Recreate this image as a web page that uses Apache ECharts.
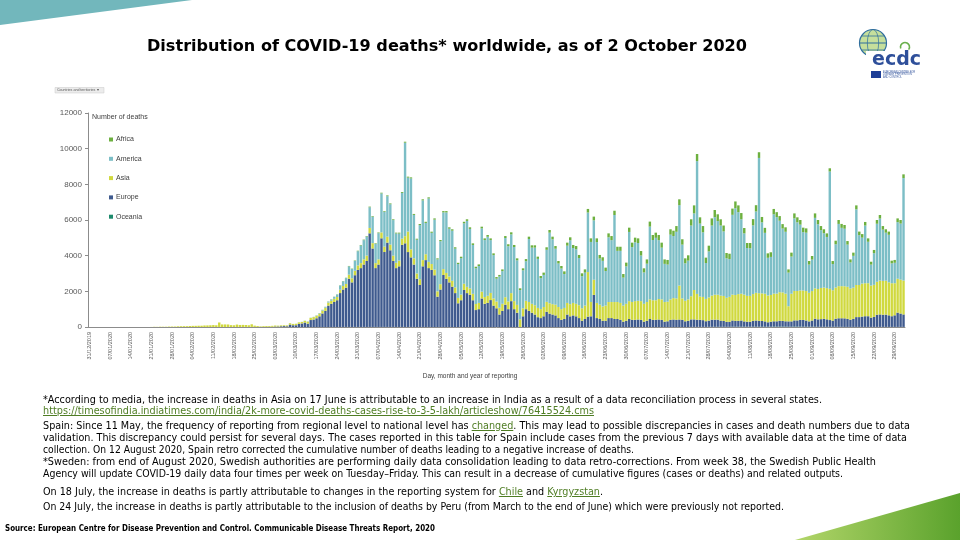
<!DOCTYPE html>
<html><head><meta charset="utf-8">
<script src="https://cdn.jsdelivr.net/npm/echarts/dist/echarts.min.js"></script>
<style>
html,body{margin:0;padding:0;background:#fff;}
#wrap{position:relative;width:960px;height:540px;overflow:hidden;background:#fff;}
#c{position:absolute;left:0;top:0;width:960px;height:540px;}
.t{position:absolute;white-space:nowrap;transform-origin:0 50%;color:#000;font-family:'DejaVu Sans',Verdana,sans-serif;display:inline-block;}
.n{font-size:10px;line-height:12px;font-stretch:condensed;}
.lk{color:#4f7d24;text-decoration:underline;}
</style></head><body>
<div id="wrap">
<div id="c"></div>
<div class="t" data-w="600" style="left:147px;top:37px;font-size:15px;line-height:18px;font-weight:bold;">Distribution of COVID-19 deaths* worldwide, as of 2 October 2020</div>
<div class="t n" data-w="779" style="left:43px;top:394px;">*According to media, the increase in deaths in Asia on 17 June is attributable to an increase in India as a result of a data reconciliation process in several states.</div>
<div class="t n" data-w="551" style="left:43px;top:405px;"><span class="lk">https://timesofindia.indiatimes.com/india/2k-more-covid-deaths-cases-rise-to-3-5-lakh/articleshow/76415524.cms</span></div>
<div class="t n" data-w="867" style="left:43px;top:420px;">Spain: Since 11 May, the frequency of reporting from regional level to national level has <span class="lk">changed</span>. This may lead to possible discrepancies in cases and death numbers due to data</div>
<div class="t n" data-w="864" style="left:43px;top:432px;">validation. This discrepancy could persist for several days. The cases reported in this table for Spain include cases from the previous 7 days with available data at the time of data</div>
<div class="t n" data-w="591" style="left:43px;top:444px;">collection. On 12 August 2020, Spain retro corrected the cumulative number of deaths leading to a negative increase of deaths.</div>
<div class="t n" data-w="833" style="left:43px;top:456px;">*Sweden: from end of August 2020, Swedish authorities are performing daily data consolidation leading to data retro-corrections. From week 38, the Swedish Public Health</div>
<div class="t n" data-w="800" style="left:43px;top:468px;">Agency will update COVID-19 daily data four times per week on Tuesday–Friday. This can result in a decrease of cumulative figures (cases or deaths) and related outputs.</div>
<div class="t n" data-w="560" style="left:43px;top:486px;">On 18 July, the increase in deaths is partly attributable to changes in the reporting system for <span class="lk">Chile</span> and <span class="lk">Kyrgyzstan</span>.</div>
<div class="t n" data-w="741" style="left:43px;top:501px;">On 24 July, the increase in deaths is partly attributable to the inclusion of deaths by Peru (from March to the end of June) which were previously not reported.</div>
<div class="t" data-w="430" style="left:5px;top:524px;font-size:8px;line-height:10px;font-weight:bold;">Source: European Centre for Disease Prevention and Control. Communicable Disease Threats Report, 2020</div>
</div>
<script>
// ---- data (daily deaths by continent, 31/12/2019 .. 02/10/2020) ----
const START_DATE = [2019, 12, 31];
const DAYS = 277;
const yTicks = [0, 2000, 4000, 6000, 8000, 10000, 12000];
const legendNames = ['Africa', 'America', 'Asia', 'Europe', 'Oceania'];

const europe = [
  0,
  0,0,0,0,0,0,0,0,0,0, 0,0,0,0,0,0,0,0,0,0, 0,0,0,0,0,0,0,0,0,0, 0,
  0,0,0,0,0,0,0,0,0,0, 0,0,0,0,1,0,0,0,0,0, 0,2,1,3,4,5,5,4,8,
  12,10,28,28,41,50,40,135,100,100,175,200,250,190,390,420,490,600,760,900,1200,1300,1400,1500,1900,2100,2200,2700,2500,2900,3200,
  3300,3500,3700,5250,4400,3300,3500,4970,4200,4730,4300,3700,3300,3400,4600,4690,4200,3900,3500,2700,2355,3400,3750,3300,3200,2900,1700,2100,2915,2700,
  2500,2260,1900,1330,1500,2075,1900,1800,1500,950,1000,1600,1300,1350,1510,1200,1050,700,900,1250,1000,1450,1000,800,-1200,600,1000,900,800,700,550,
  500,600,850,750,700,650,500,400,450,700,600,650,600,500,350,450,580,600,1800,500,450,350,350,500,500,450,450,400,300,350,
  450,400,400,420,400,300,350,450,400,400,420,400,300,320,400,420,400,420,400,320,350,420,420,400,400,380,320,350,400,400,400,
  350,330,280,280,350,330,330,350,300,280,280,330,350,330,320,300,250,280,300,300,330,320,300,300,300,350,350,380,380,350,300,
  350,450,420,430,450,420,380,350,450,480,480,480,450,400,450,550,550,580,600,600,520,560,680,700,680,690,650,600,650,800,
  750,700
];
const asia = [
  0,
  0,0,0,0,0,0,0,0,0,0, 1,0,0,0,0,0,0,0,0,0, 3,11,8,16,15,15,24,26,26,38, 43,
  46,45,57,64,66,72,73,86,89,97,108,97,254,143,143,142,105,98,136,115,118,109,97,150,71,52,29,44,47,
  45,55,55,45,50,45,50,75,70,80,85,80,95,110,120,135,140,150,160,175,170,170,175,180,190,200,210,230,230,250,250,
  280,290,300,300,300,280,290,330,300,330,320,300,300,320,350,400,1150,450,350,300,320,350,330,350,330,320,300,300,330,330,
  330,330,320,300,320,350,350,360,360,340,350,380,380,400,400,400,380,380,400,420,430,450,450,440,430,450,470,500,500,520,520,
  500,520,560,580,580,600,620,600,620,650,680,700,700,720,700,750,2500,800,850,850,800,800,850,900,900,950,950,950,900,950,
  1000,1000,1050,1050,1050,1000,1050,1100,1100,1100,1150,1150,1100,1100,1150,1200,1200,1900,1200,1150,1200,1300,1650,1450,1300,1300,1250,1300,1350,1400,1400,
  1400,1400,1350,1400,1450,1450,1500,1500,1500,1450,1450,1500,1550,1550,1550,1550,1500,1500,1550,1550,1600,1600,1550,850,1550,1650,1650,1650,1650,1650,1600,
  1650,1700,1700,1750,1750,1750,1750,1700,1750,1800,1800,1800,1800,1750,1750,1800,1800,1850,1850,1850,1800,1800,1850,1900,1900,1900,1850,1850,1800,1900,
  1900,1900
];
const america = [
  0,
  0,0,0,0,0,0,0,0,0,0, 0,0,0,0,0,0,0,0,0,0, 0,0,0,0,0,0,0,0,0,0, 0,
  0,0,0,0,0,0,0,0,0,0, 0,0,0,0,0,0,0,0,0,0, 0,0,0,0,0,0,0,0,1,
  1,2,1,4,3,2,4,3,4,5,5,10,11,12,10,12,21,30,40,50,55,70,110,140,230,260,330,470,520,550,800,
  988,1077,1068,1162,1483,1072,1468,2187,1956,2272,2263,1992,1643,1518,2567,5243,3023,3977,2433,1894,3038,3348,1754,3553,1749,2799,1789,2409,3179,3394,
  2679,2810,2174,1900,2039,3390,3699,3340,2740,2005,2070,3550,3195,3310,2960,2430,1280,1750,1830,3320,3100,3295,3035,2500,1640,2130,2220,3535,3150,3230,2750,
  1740,1800,2920,3960,3635,3140,2440,2280,1900,3210,3580,3080,3060,2650,1800,1850,3340,3370,3330,3410,2590,2560,1940,3630,3470,4880,2870,2920,1570,2100,
  3880,3080,3300,3240,2560,1760,2150,4080,3380,3500,3300,2900,2140,2080,3630,3480,3740,4510,3020,2100,2170,3965,4295,7445,4095,3625,2015,2580,3930,4350,4130,
  3930,3620,2210,2120,4475,4865,4595,4175,3435,2685,2665,3855,4565,7585,3985,3415,2115,2135,4450,4290,4010,3580,3470,1885,2085,4070,3850,3690,3275,3275,1585,
  1765,3955,3630,3240,3050,2870,6580,1470,2430,3490,3270,3225,2365,1465,1785,4245,2795,2575,3235,2325,1175,1775,3255,3475,2875,2695,2665,1115,1145,3175,
  3145,5745
];
const africa = [
  0,
  0,0,0,0,0,0,0,0,0,0, 0,0,0,0,0,0,0,0,0,0, 0,0,0,0,0,0,0,0,0,0, 0,
  0,0,0,0,0,0,0,0,0,0, 0,0,0,0,0,0,0,0,0,0, 0,0,0,0,0,0,0,0,0,
  0,0,0,0,0,0,0,0,1,0,0,1,1,2,2,3,3,5,5,8,8,10,12,12,15,15,18,20,22,25,25,
  30,30,30,35,35,35,40,40,40,45,45,45,45,50,50,55,55,60,55,55,60,60,65,65,65,70,60,70,75,75,
  80,80,75,70,80,85,90,90,90,85,90,95,95,100,100,100,90,90,100,110,110,115,115,110,100,110,120,130,130,130,125,
  120,130,140,150,150,150,140,140,150,170,170,170,180,170,160,180,200,200,210,210,200,200,190,220,230,240,230,230,200,210,
  240,250,260,260,250,230,240,280,280,290,290,280,250,260,300,300,320,330,300,280,300,350,450,400,350,350,300,320,400,400,380,
  350,330,300,300,350,380,380,350,300,280,300,350,350,320,300,280,250,260,300,280,260,250,250,180,220,280,280,260,250,240,200,
  200,250,240,230,220,200,180,170,200,220,220,210,200,170,180,220,200,200,200,190,160,180,210,200,200,190,180,150,160,210,
  200,210
];
const oceania = [
  0,
  0,0,0,0,0,0,0,0,0,0, 0,0,0,0,0,0,0,0,0,0, 0,0,0,0,0,0,0,0,0,0, 0,
  0,0,0,0,0,0,0,0,0,0, 0,0,0,0,0,0,0,0,0,0, 0,0,0,0,0,0,0,0,0,
  0,0,0,0,0,0,0,0,0,0,0,0,0,0,0,0,0,0,0,1,0,1,2,1,2,2,3,3,2,4,3,
  2,3,2,3,2,3,2,3,4,3,2,3,2,2,3,2,2,3,2,1,2,2,1,2,1,1,1,1,1,1,
  1,0,1,0,1,0,1,0,0,0,0,0,0,0,0,0,0,0,0,0,0,0,0,0,0,0,0,0,0,0,0,
  0,0,0,0,0,0,0,0,0,0,0,0,0,0,0,0,0,0,0,0,0,0,0,0,0,0,0,0,0,0,
  0,0,0,0,0,0,0,0,0,0,0,0,0,0,0,0,0,0,0,0,0,5,5,5,5,5,5,10,10,10,10,
  10,10,10,10,15,15,15,15,15,15,15,15,15,15,15,15,15,15,20,20,20,20,20,15,15,20,20,20,15,15,15,
  15,15,10,10,10,10,10,10,10,10,10,5,5,5,5,5,5,5,5,5,5,5,5,5,5,5,5,5,5,5,
  5,5
];
const colors = {Africa:'#6db03f', America:'#7cbec6', Asia:'#d0d93f', Europe:'#3f5a8e', Oceania:'#1d8a6c'};

// category labels (dd/mm/yyyy for each reporting day)
const dates = [];
(function(){
  const d = new Date(Date.UTC(START_DATE[0], START_DATE[1]-1, START_DATE[2]));
  for (let i = 0; i < DAYS; i++) {
    const dd = String(d.getUTCDate()).padStart(2,'0');
    const mm = String(d.getUTCMonth()+1).padStart(2,'0');
    dates.push(dd + '/' + mm + '/' + d.getUTCFullYear());
    d.setUTCDate(d.getUTCDate()+1);
  }
})();
[['europe',europe],['asia',asia],['america',america],['africa',africa],['oceania',oceania]].forEach(function(p){
  if (p[1].length !== DAYS) throw new Error('length ' + p[0] + ' = ' + p[1].length);
});

const chart = echarts.init(document.getElementById('c'));
function mk(name, data){
  return {name:name, type:'bar', stack:'all', data:data, barCategoryGap:'18%',
    itemStyle:{color:colors[name]}, emphasis:{disabled:true}, silent:true};
}
const FONT = 'Liberation Sans, Arial, sans-serif';
chart.setOption({
  animation:false,
  backgroundColor:'#ffffff',
  grid:{left:88, right:55, top:113, bottom:213, containLabel:false, outerBoundsMode:'none'},
  legend:{orient:'vertical', left:104, top:131, itemWidth:4, itemHeight:4, itemGap:12.3, icon:'rect',
    data:legendNames, textStyle:{fontSize:7, color:'#404040', fontFamily:FONT, padding:[0,0,0,-2]}, selectedMode:false},
  xAxis:{type:'category', data:dates,
    axisLine:{lineStyle:{color:'#8c8c8c', width:1}},
    axisTick:{interval:0, length:2, lineStyle:{color:'#8c8c8c', width:0.6}},
    axisLabel:{interval:6, rotate:90, fontSize:5.5, color:'#595959', margin:5, fontFamily:FONT}},
  yAxis:{type:'value', min:yTicks[0], max:yTicks[yTicks.length-1], interval:2000,
    axisLine:{show:true, lineStyle:{color:'#8c8c8c', width:1}},
    axisTick:{show:true, length:3, lineStyle:{color:'#8c8c8c'}},
    splitLine:{show:false},
    axisLabel:{fontSize:8, color:'#595959', margin:6, fontFamily:FONT, formatter:function(v){return String(v);}}},
  series:[mk('Oceania',oceania), mk('Europe',europe), mk('Asia',asia), mk('America',america), mk('Africa',africa)],
  graphic:[
    {type:'polygon', silent:true, shape:{points:[[0,0],[192,0],[0,25]]}, style:{fill:'#72b7bc'}},
    {type:'polygon', silent:true, shape:{points:[[795,540],[960,493],[960,540]]},
      style:{fill:new echarts.graphic.LinearGradient(0,0,1,0,[{offset:0,color:'#b3d66a'},{offset:1,color:'#5aa22c'}])}},
    {type:'rect', silent:true, shape:{x:55,y:87.5,width:49,height:5.5}, style:{fill:'#ececec', stroke:'#c8c8c8', lineWidth:0.5}},
    {type:'text', silent:true, style:{x:57, y:90.3, text:'Countries and territories  \u25BE', font:'3.6px Liberation Sans', fill:'#555', textVerticalAlign:'middle'}},
    {type:'text', silent:true, style:{x:92, y:117, text:'Number of deaths', font:'7px Liberation Sans', fill:'#404040', textVerticalAlign:'middle'}},
    {type:'text', silent:true, style:{x:470, y:376, text:'Day, month and year of reporting', font:'6.5px Liberation Sans', fill:'#404040', textAlign:'center', textVerticalAlign:'middle'}},
    // logo
    {type:'circle', silent:true, shape:{cx:873, cy:43, r:13.5}, style:{fill:'#c5df9c', stroke:'#2f6e9e', lineWidth:1.2}},
    {type:'circle', silent:true, shape:{cx:873, cy:43, r:13.5}, scaleX:0.42, originX:873, originY:43, style:{fill:'none', stroke:'#2f6e9e', lineWidth:1}},
    {type:'line', silent:true, shape:{x1:860, y1:43, x2:886, y2:43}, style:{stroke:'#2f6e9e', lineWidth:1}},
    {type:'line', silent:true, shape:{x1:862, y1:36, x2:884, y2:36}, style:{stroke:'#2f6e9e', lineWidth:0.8}},
    {type:'line', silent:true, shape:{x1:862, y1:50, x2:884, y2:50}, style:{stroke:'#2f6e9e', lineWidth:0.8}},
    {type:'rect', silent:true, shape:{x:866,y:51,width:56,height:17}, style:{fill:'#ffffff'}},
    {type:'text', silent:true, style:{x:872, y:60, text:'ecdc', font:'bold 19px DejaVu Sans', fill:'#2e4f9a', textVerticalAlign:'middle'}},
    {type:'arc', silent:true, shape:{cx:905, cy:47, r:4.5, startAngle:Math.PI*0.9, endAngle:Math.PI*2.2}, style:{stroke:'#6ab04c', lineWidth:1.6, fill:'none'}},
    {type:'rect', silent:true, shape:{x:871,y:71,width:10,height:7}, style:{fill:'#1e3f97'}},
    {type:'text', silent:true, style:{x:883, y:72, text:'EUROPEAN CENTRE FOR', font:'2.6px Liberation Sans', fill:'#3a5aa0', textVerticalAlign:'middle'}},
    {type:'text', silent:true, style:{x:883, y:74.6, text:'DISEASE PREVENTION', font:'2.6px Liberation Sans', fill:'#3a5aa0', textVerticalAlign:'middle'}},
    {type:'text', silent:true, style:{x:883, y:77.2, text:'AND CONTROL', font:'2.6px Liberation Sans', fill:'#3a5aa0', textVerticalAlign:'middle'}}
  ]
});

function fit(){
  document.querySelectorAll('.t[data-w]').forEach(function(el){
    el.style.transform = 'none';
    const w = el.getBoundingClientRect().width;
    const target = parseFloat(el.getAttribute('data-w'));
    if (w > 0) el.style.transform = 'scaleX(' + (target / w) + ')';
  });
}
fit();
if (document.fonts && document.fonts.ready) document.fonts.ready.then(fit);
</script>
</body></html>
